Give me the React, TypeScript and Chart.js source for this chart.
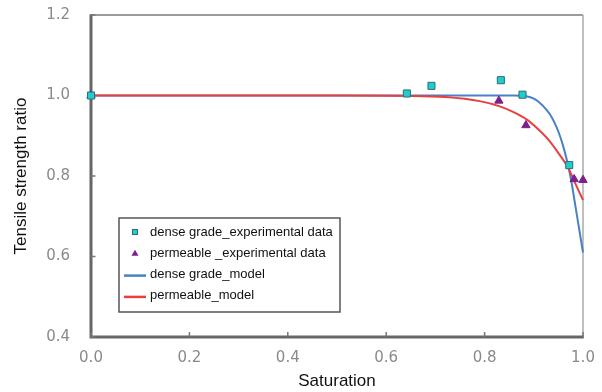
import React, { useEffect, useRef } from "react";
import { Chart, registerables } from "chart.js";

Chart.register(...registerables);

// ---- data ----
const denseExpX = [0, 0.642, 0.692, 0.833, 0.877, 0.972];
const denseExpY = [1.0, 1.005, 1.024, 1.038, 1.002, 0.827];

const permExpX = [0, 0.829, 0.884, 0.982, 1.0];
const permExpY = [1.0, 0.987, 0.926, 0.792, 0.79];

const denseModelX = [0, 0.5, 0.86, 0.885, 0.9, 0.912, 0.926, 0.937, 0.946, 0.953, 0.96, 0.97, 0.977, 0.985, 1.0];
const denseModelY = [1.0, 1.0, 1.0, 0.998, 0.992, 0.982, 0.964, 0.945, 0.922, 0.9, 0.873, 0.825, 0.782, 0.722, 0.61];

const permModelX = [0, 0.5, 0.65, 0.72, 0.79, 0.831, 0.86, 0.886, 0.91, 0.93, 0.953, 0.97, 0.985, 1.0];
const permModelY = [1.0, 1.0, 0.999, 0.996, 0.986, 0.973, 0.958, 0.94, 0.915, 0.89, 0.852, 0.82, 0.78, 0.74];

const xTicks = [0, 0.2, 0.4, 0.6, 0.8, 1.0];
const yTicks = [0.4, 0.6, 0.8, 1.0, 1.2];

const seriesLabels = [
  "dense grade_experimental data",
  "permeable _experimental data",
  "dense grade_model",
  "permeable_model",
];
const xTitle = "Saturation";
const yTitle = "Tensile strength ratio";

const toPoints = (xs: number[], ys: number[]) => xs.map((x, i) => ({ x, y: ys[i] }));

const framePlugin = {
  id: "frame",
  beforeDatasetsDraw(chart: any) {
    const { ctx, chartArea: a, scales } = chart;
    ctx.save();
    ctx.lineCap = "butt";
    // top
    ctx.strokeStyle = "#7a7a7a";
    ctx.lineWidth = 1.5;
    ctx.beginPath();
    ctx.moveTo(a.left, a.top);
    ctx.lineTo(a.right, a.top);
    ctx.stroke();
    // right
    ctx.strokeStyle = "#aaaaaa";
    ctx.lineWidth = 1.5;
    ctx.beginPath();
    ctx.moveTo(a.right, a.top);
    ctx.lineTo(a.right, a.bottom);
    ctx.stroke();
    // left + bottom (thick)
    ctx.strokeStyle = "#666666";
    ctx.lineWidth = 3;
    ctx.beginPath();
    ctx.moveTo(a.left, a.top - 0.75);
    ctx.lineTo(a.left, a.bottom);
    ctx.lineTo(a.right + 0.75, a.bottom);
    ctx.stroke();
    // inner ticks
    ctx.strokeStyle = "#777777";
    ctx.lineWidth = 1.5;
    ctx.beginPath();
    yTicks.forEach((v) => {
      const py = scales.y.getPixelForValue(v);
      ctx.moveTo(a.left, py);
      ctx.lineTo(a.left + 4.5, py);
    });
    xTicks.forEach((v) => {
      const px = scales.x.getPixelForValue(v);
      ctx.moveTo(px, a.bottom);
      ctx.lineTo(px, a.bottom - 5);
    });
    ctx.stroke();
    ctx.restore();
  },
};

const legendPlugin = {
  id: "boxLegend",
  afterDraw(chart: any) {
    const { ctx, chartArea: a } = chart;
    const x0 = a.left + 28;
    const y0 = a.top + 203;
    const w = 221;
    const h = 94;
    ctx.save();
    ctx.fillStyle = "#ffffff";
    ctx.fillRect(x0, y0, w, h);
    ctx.strokeStyle = "#555555";
    ctx.lineWidth = 1.5;
    ctx.strokeRect(x0, y0, w, h);
    const rowH = 21.3;
    chart.data.datasets.forEach((ds: any, i: number) => {
      const cy = y0 + 14 + i * rowH;
      const mx = x0 + 16;
      if (ds.showLine) {
        ctx.strokeStyle = ds.borderColor;
        ctx.lineWidth = 2.5;
        ctx.beginPath();
        ctx.moveTo(x0 + 5, cy + 1);
        ctx.lineTo(x0 + 27, cy + 1);
        ctx.stroke();
      } else if (ds.pointStyle === "rect") {
        ctx.fillStyle = ds.backgroundColor;
        ctx.strokeStyle = ds.borderColor;
        ctx.lineWidth = 1;
        ctx.fillRect(mx - 2.5, cy - 2.5, 5, 5);
        ctx.strokeRect(mx - 2.5, cy - 2.5, 5, 5);
      } else {
        ctx.fillStyle = ds.backgroundColor;
        ctx.beginPath();
        ctx.moveTo(mx, cy - 3.5);
        ctx.lineTo(mx + 3.5, cy + 2.5);
        ctx.lineTo(mx - 3.5, cy + 2.5);
        ctx.closePath();
        ctx.fill();
      }
      ctx.fillStyle = "#111111";
      ctx.font = "13px 'Liberation Sans', Arial, sans-serif";
      ctx.textBaseline = "middle";
      ctx.textAlign = "left";
      ctx.fillText(ds.label, x0 + 31, cy);
    });
    ctx.restore();
  },
};

export default function App() {
  const ref = useRef<HTMLCanvasElement | null>(null);

  useEffect(() => {
    if (!ref.current) return;
    const chart = new Chart(ref.current, {
      type: "scatter",
      data: {
        datasets: [
          {
            label: seriesLabels[0],
            data: toPoints(denseExpX, denseExpY),
            showLine: false,
            pointStyle: "rect",
            pointRadius: 5,
            pointBackgroundColor: "#22cccc",
            pointBorderColor: "#2b6f78",
            pointBorderWidth: 1,
            backgroundColor: "#22cccc",
            borderColor: "#2b6f78",
            order: 0,
            clip: false,
          } as any,
          {
            label: seriesLabels[1],
            data: toPoints(permExpX, permExpY),
            showLine: false,
            pointStyle: "triangle",
            pointRadius: 4.8,
            pointBackgroundColor: "#7b1f8c",
            pointBorderColor: "#7b1f8c",
            pointBorderWidth: 1,
            backgroundColor: "#7b1f8c",
            borderColor: "#7b1f8c",
            order: 1,
            clip: false,
          } as any,
          {
            label: seriesLabels[2],
            data: toPoints(denseModelX, denseModelY),
            showLine: true,
            pointRadius: 0,
            borderColor: "#4a80c4",
            backgroundColor: "#4a80c4",
            borderWidth: 2,
            cubicInterpolationMode: "monotone",
            fill: false,
            order: 3,
            clip: false,
          } as any,
          {
            label: seriesLabels[3],
            data: toPoints(permModelX, permModelY),
            showLine: true,
            pointRadius: 0,
            borderColor: "#e8403f",
            backgroundColor: "#e8403f",
            borderWidth: 2,
            cubicInterpolationMode: "monotone",
            fill: false,
            order: 2,
            clip: false,
          } as any,
        ],
      },
      options: {
        responsive: false,
        animation: false,
        layout: { padding: { left: 0, right: 19, top: 15, bottom: 0 } },
        plugins: {
          legend: { display: false },
          tooltip: { enabled: false },
        },
        scales: {
          x: {
            type: "linear",
            min: 0,
            max: 1,
            afterBuildTicks: (s: any) => {
              s.ticks = xTicks.map((v) => ({ value: v }));
            },
            ticks: {
              callback: (v: any) => Number(v).toFixed(1),
              color: "#8a8a8a",
              font: { family: "'DejaVu Sans', sans-serif", size: 15 },
              padding: 4,
              maxRotation: 0,
              autoSkip: false,
            },
            grid: { display: false },
            border: { display: false },
            title: {
              display: true,
              text: xTitle,
              color: "#111111",
              font: { family: "'Liberation Sans', Arial, sans-serif", size: 17 },
              padding: { top: 0, bottom: 0 },
            },
            afterFit: (s: any) => {
              s.height = 55;
              s.paddingLeft = 0;
              s.paddingRight = 0;
            },
          },
          y: {
            type: "linear",
            min: 0.4,
            max: 1.2,
            afterBuildTicks: (s: any) => {
              s.ticks = yTicks.map((v) => ({ value: v }));
            },
            ticks: {
              callback: (v: any) => Number(v).toFixed(1),
              color: "#8a8a8a",
              font: { family: "'DejaVu Sans', sans-serif", size: 15 },
              padding: 13,
              autoSkip: false,
            },
            grid: { display: false },
            border: { display: false },
            title: {
              display: true,
              text: yTitle,
              color: "#111111",
              font: { family: "'Liberation Sans', Arial, sans-serif", size: 17 },
              padding: { top: 11, bottom: 0 },
            },
            afterFit: (s: any) => {
              s.width = 91;
              s.paddingTop = 0;
              s.paddingBottom = 0;
            },
          },
        },
      } as any,
      plugins: [framePlugin, legendPlugin],
    });
    return () => chart.destroy();
  }, []);

  return (
    <div style={{ position: "absolute", left: 0, top: 0, width: 602, height: 392, background: "#ffffff" }}>
      <canvas ref={ref} width={602} height={392} style={{ display: "block" }} />
    </div>
  );
}
